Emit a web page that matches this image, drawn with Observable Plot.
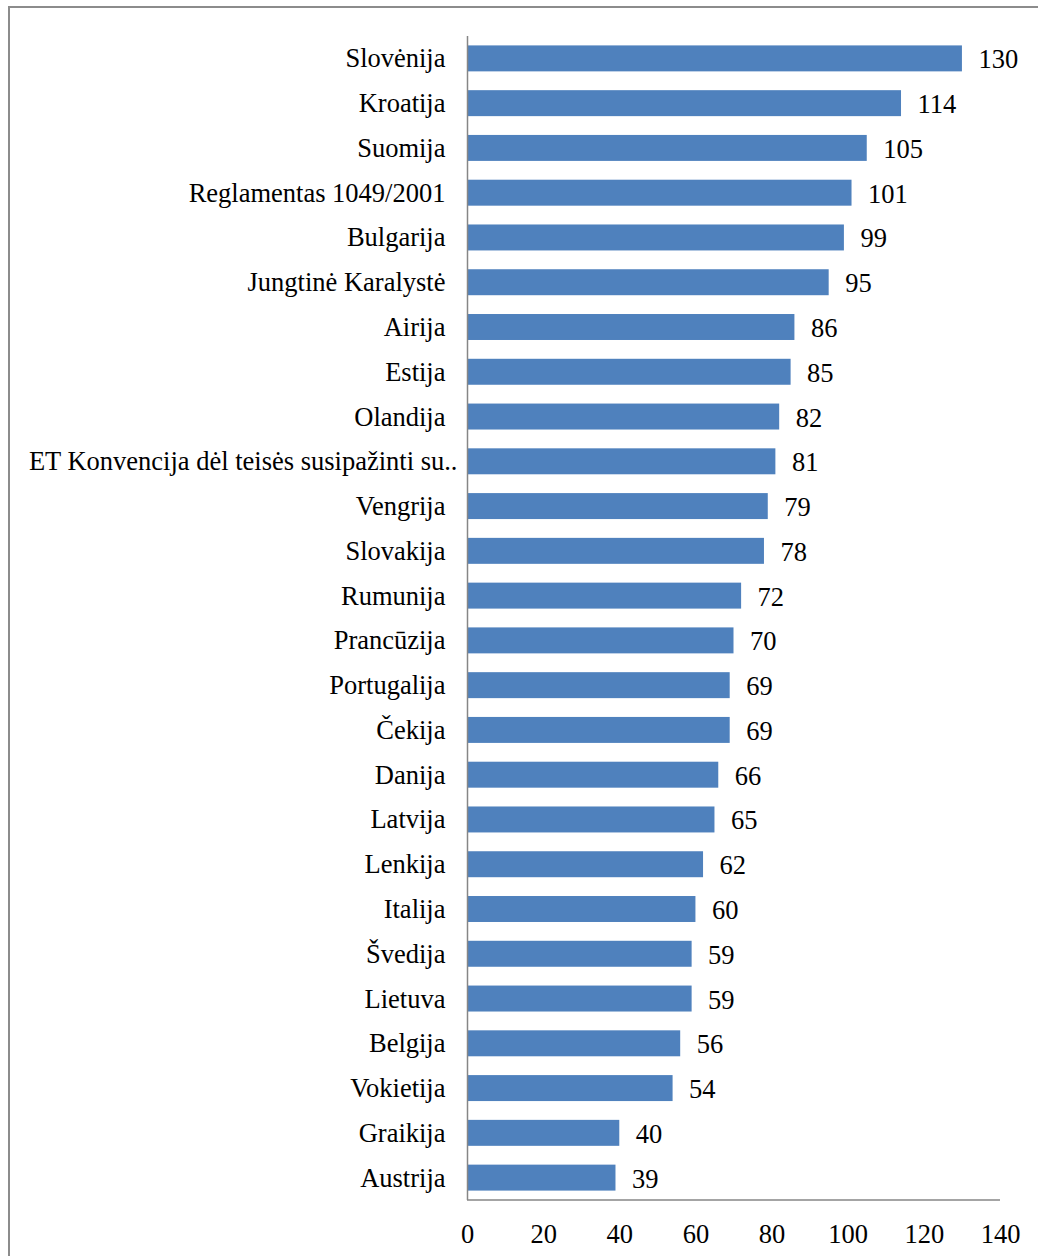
<!DOCTYPE html>
<html><head><meta charset="utf-8">
<script src="https://cdn.jsdelivr.net/npm/d3@7"></script>
<script src="https://cdn.jsdelivr.net/npm/@observablehq/plot@0.6"></script>
<style>
html,body{margin:0;padding:0;background:#fff;overflow:hidden;}
#wrap{position:relative;width:1038px;height:1256px;}
#border{position:absolute;left:8px;top:6px;width:1100px;height:1300px;border:2px solid #8c8c8c;box-sizing:border-box;pointer-events:none;}
</style></head>
<body><div id="wrap"><div id="border"></div></div>
<script>
const categories = ["Slovėnija","Kroatija","Suomija","Reglamentas 1049/2001","Bulgarija","Jungtinė Karalystė","Airija","Estija","Olandija","ET Konvencija dėl teisės susipažinti su..","Vengrija","Slovakija","Rumunija","Prancūzija","Portugalija","Čekija","Danija","Latvija","Lenkija","Italija","Švedija","Lietuva","Belgija","Vokietija","Graikija","Austrija"];
const values = [130,114,105,101,99,95,86,85,82,81,79,78,72,70,69,69,66,65,62,60,59,59,56,54,40,39];
const xTicks = [0,20,40,60,80,100,120,140];
const data = categories.map((c,i)=>({name:c, value:values[i]}));

const bottomLine = (index, scales, values, dims) => {
  const g = document.createElementNS("http://www.w3.org/2000/svg","line");
  const y = dims.height - dims.marginBottom;
  g.setAttribute("x1", dims.marginLeft); g.setAttribute("x2", dims.width - dims.marginRight);
  g.setAttribute("y1", y); g.setAttribute("y2", y);
  g.setAttribute("stroke", "#868686"); g.setAttribute("stroke-width", "1.5");
  return g;
};

const FS = 26.5;
const chart = Plot.plot({
  width: 1038, height: 1256,
  marginLeft: 467, marginRight: 38, marginTop: 36, marginBottom: 56,
  style: {fontFamily: "'Liberation Serif', 'Times New Roman', serif", fontSize: FS + "px", color: "#000", background: "transparent"},
  x: {domain: [0,140], axis: null},
  y: {domain: categories, paddingInner: 0.42, paddingOuter: 0.21, round: false, axis: null},
  marks: [
    Plot.barX(data, {x: "value", y: "name", fill: "#4F81BD"}),
    Plot.text(data, {x: "value", y: "name", text: d => String(d.value), textAnchor: "start", dx: 16, dy: 1, fontSize: FS, fill: "#000"}),
    Plot.axisY({tickSize: 0, tickPadding: 22, label: null, fontSize: FS}),
    Plot.axisX(xTicks, {anchor: "bottom", tickSize: 0, tickPadding: 24, label: null, fontSize: FS}),
    Plot.ruleX([0], {stroke: "#868686", strokeWidth: 1.5}),
    bottomLine
  ]
});
chart.querySelectorAll("text").forEach(t => {
  if (t.textContent.startsWith("ET Konvencija")) t.setAttribute("dx", "12");
});
chart.style.position = "absolute"; chart.style.left = "0"; chart.style.top = "0";
document.getElementById("wrap").appendChild(chart);
</script></body></html>
